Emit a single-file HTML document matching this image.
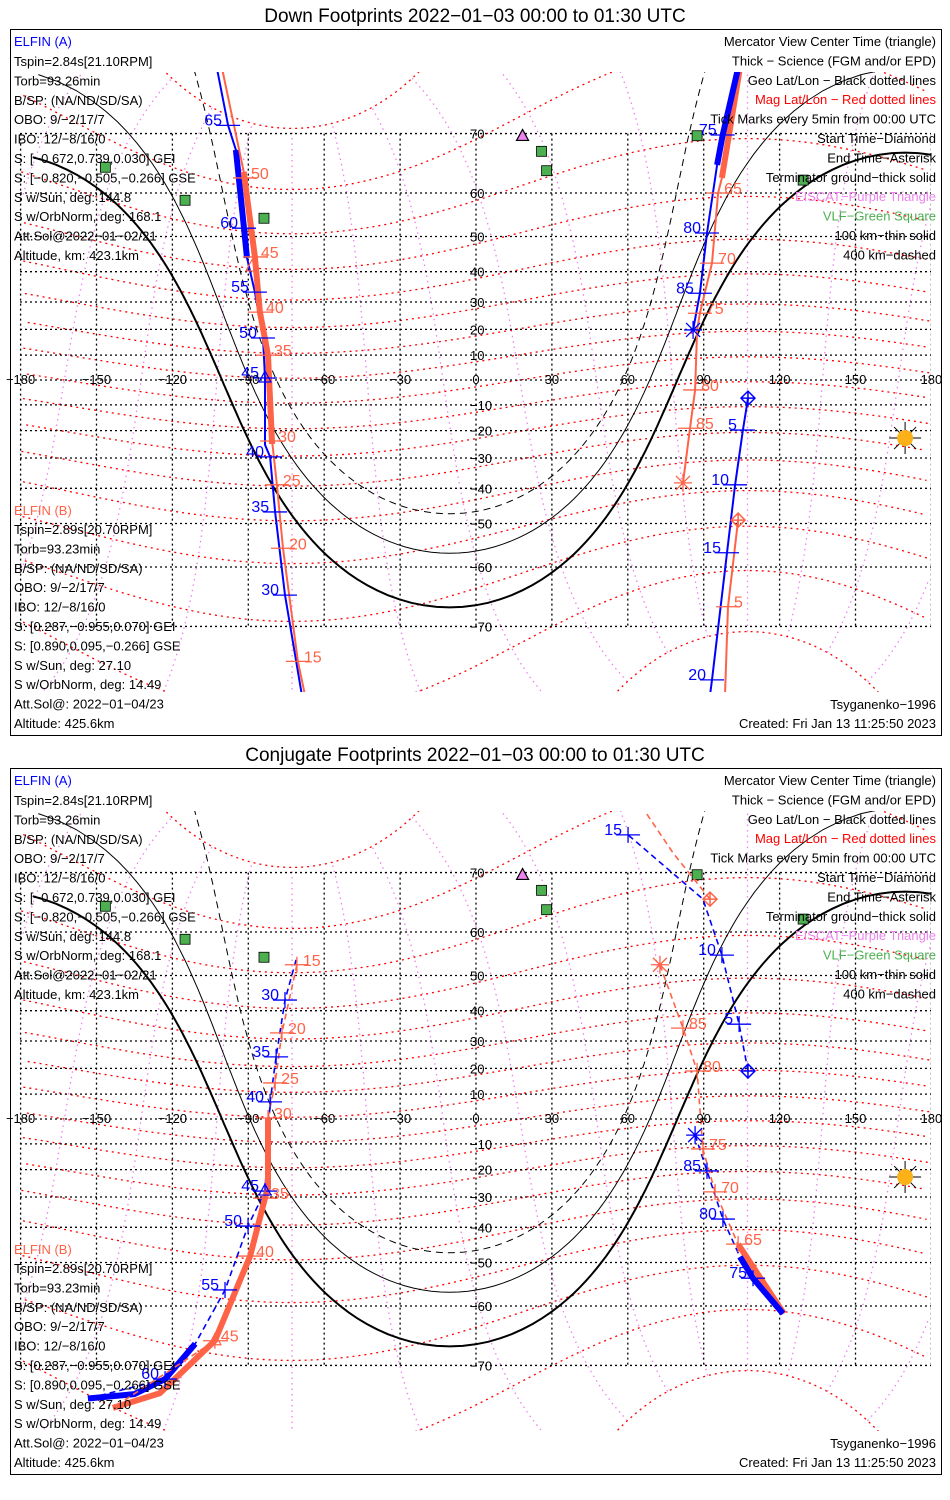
<!DOCTYPE html>
<html><head><meta charset="utf-8">
<style>
html,body{margin:0;padding:0;background:#fff;}
svg{display:block;font-family:"Liberation Sans",sans-serif;}
.info{font-size:13px;}
.leg{font-size:13px;text-anchor:end;}
.ttl{font-size:19px;text-anchor:middle;}
.ax{font-size:13px;}
</style></head>
<body>
<svg id="chart" width="950" height="1500" viewBox="0 0 950 1500" xmlns="http://www.w3.org/2000/svg"></svg>
<script>
// ---------- data (lon/lat of footprint tracks) ----------
// Down footprints
const a1Lon=[-102.4,-98,-94.9,-91.7,-90.5,-87.4,-84.2,-83.4,-83.4,-81.4,-79.4,-75.5,-68.8];
const a1Lat=[77.3,71.1,67.6,52.1,44.1,33.4,16.7,0.8,-25.3,-29.6,-46.9,-65.2,-77.6];
const a1ThickLon=[-94.9,-91.7,-90.5];
const a1ThickLat=[67.6,52.1,44.1];
const a1TickLbl=[65,60,55,50,45,40,35,30];
const a1TickLon=[-98,-91.7,-87.4,-84.2,-83.4,-81.4,-79.4,-75.5];
const a1TickLat=[71.1,52.1,33.4,16.7,0.8,-29.6,-46.9,-65.2];
const b1Lon=[-100.4,-91.3,-87.4,-85.4,-82.2,-80.6,-78.7,-76.3,-70.4,-67.6];
const b1Lat=[77.3,62.9,44.4,26.4,10,-23.9,-38.9,-56,-74.3,-77.6];
const b1ThickLon=[-91.8,-87.4,-85.4,-82.2,-80.6];
const b1ThickLat=[64,44.4,26.4,10,-25];
const b1TickLbl=[50,45,40,35,30,25,20,15];
const b1TickLon=[-91.3,-87.4,-85.4,-82.2,-80.6,-78.7,-76.3,-70.4];
const b1TickLat=[62.9,44.4,26.4,10,-23.9,-38.9,-56,-74.3];
const a2Lon=[103.6,97.5,95.3,91.3,88.5,85.8];
const a2Lat=[77.3,69.8,65.2,50.9,33,19.8];
const a2ThickLon=[103.6,97.5,95.3];
const a2ThickLat=[77.3,69.8,65.2];
const a2TickLbl=[75,80,85];
const a2TickLon=[97.5,91.3,88.5];
const a2TickLat=[69.8,50.9,33];
const a3Lon=[107.5,105.5,102.4,99.2,93.3,92.5];
const a3Lat=[-7.3,-19.8,-38.9,-57,-76.2,-77.6];
const a3TickLbl=[5,10,15,20];
const a3TickLon=[105.5,102.4,99.2,93.3];
const a3TickLat=[-19.8,-38.9,-57,-76.2];
const b2Lon=[104.3,97.2,95.7,93.3,88.5,87.4,86.6,84.6,81.8];
const b2Lat=[77.3,62.9,60,42.6,26,19.8,-4,-19.1,-38.3];
const b2ThickLon=[104.3,97.2];
const b2ThickLat=[77.3,62.9];
const b2TickLbl=[65,70,75,80,85];
const b2TickLon=[95.7,93.3,88.5,86.6,84.6];
const b2TickLat=[60,42.6,26,-4,-19.1];
const b3Lon=[103.6,99.6,98.4];
const b3Lat=[-49.1,-67.1,-77.6];
const b3TickLbl=[5];
const b3TickLon=[99.6];
const b3TickLat=[-67.1];
// Conjugate footprints
const a4Lon=[-71.1,-75.5,-79,-81.4,-83.4,-90.1,-99.2,-111,-122.9,-153.4];
const a4Lat=[53.9,43.2,24.3,6.9,-27.9,-39.6,-56.6,-66.8,-71.8,-74.1];
const a4ThickLon=[-111,-122.9,-135,-153.4];
const a4ThickLat=[-66.8,-71.8,-73.6,-74.1];
const a4TickLbl=[30,35,40,45,50,55,60];
const a4TickLon=[-75.5,-79,-81.4,-83.4,-90.1,-99.2,-122.9];
const a4TickLat=[43.2,24.3,6.9,-27.9,-39.6,-56.6,-71.8];
const b4Lon=[-70.8,-76.7,-79.4,-82.2,-82.2,-83.4,-89.3,-103.2,-143.5];
const b4Lat=[52.7,32.8,14.4,0.4,-26.8,-30.4,-48.3,-66.3,-75.1];
const b4ThickLon=[-82.2,-82.2,-83.4,-89.3,-103.2,-125,-143.5];
const b4ThickLat=[0.4,-26.8,-30.4,-48.3,-66.3,-73.5,-75.1];
const b4TickLbl=[15,20,25,30,35,40,45];
const b4TickLon=[-70.8,-76.7,-79.4,-82.2,-83.4,-89.3,-103.2];
const b4TickLat=[52.7,32.8,14.4,0.4,-30.4,-48.3,-66.3];
const a5Lon=[107.5,104,97.2,89.7,60.1];
const a5Lat=[19.0,35.7,55.0,66.0,74.6];
const a5TickLbl=[5,10,15];
const a5TickLon=[104,97.2,60.1];
const a5TickLat=[35.7,55.0,74.6];
const a6Lon=[86.6,91.3,97.6,104.3,109.5,121.3];
const a6Lat=[-6.5,-20.5,-37.4,-48.5,-53.9,-61.5];
const a6ThickLon=[104.3,109.5,121.3];
const a6ThickLat=[-48.5,-53.9,-61.5];
const a6TickLbl=[85,80,75];
const a6TickLon=[91.3,97.6,109.5];
const a6TickLat=[-20.5,-37.4,-53.9];
const b5Lon=[92.5,78,64.8];
const b5Lat=[66.0,72.5,77.6];
const b6Lon=[72.7,81.8,87.4,89.7,94.5,103.6,121.7];
const b6Lat=[52.7,34.4,19.0,-12.0,-28.2,-45,-61.5];
const b6ThickLon=[103.6,121.7];
const b6ThickLat=[-45,-61.5];
const b6TickLbl=[85,80,75,70,65];
const b6TickLon=[81.8,87.4,89.7,94.5,103.6];
const b6TickLat=[34.4,19.0,-12.0,-28.2,-45];
// grid ticks
const lonTicks=[-180,-150,-120,-90,-60,-30,0,30,60,90,120,150,180];
const latTicks=[-70,-60,-50,-40,-30,-20,-10,0,10,20,30,40,50,60,70];
// sites
const vlfLon=[-146.5,-115,-83.8,25.9,27.9,87.4,129.3];
const vlfLat=[64.8,58.5,54.5,67.4,64.2,69.7,62.5];
const eiscatLon=[16,18.4];
const eiscatLat=[78.2,69.6];
const subsolarLat=-22.8, subsolarLon=169.6;
const termAlt=[0,100,400];

// ---------- projection ----------
const NS='http://www.w3.org/2000/svg';
const svg=document.getElementById('chart');
const X=lon=>476+lon*2.53;
const Y=(lat,off)=>off+380-142*Math.log(Math.tan(Math.PI/4+lat*Math.PI/360));
function el(tag,attrs,parent){const e=document.createElementNS(NS,tag);for(const k in attrs)e.setAttribute(k,attrs[k]);(parent||svg).appendChild(e);return e;}
function txt(s,x,y,cls,parent,fill){const t=el('text',{x:x,y:y,class:cls},parent);t.style.fill=fill||'#000';t.textContent=s;return t;}
function pathFrom(lons,lats,off){let d='',prev=null;for(let i=0;i<lons.length;i++){if(lats[i]>85||lats[i]<-85){prev=null;continue;}const cmd=(prev===null||Math.abs(lons[i]-prev)>180)?'M':'L';d+=cmd+X(lons[i]).toFixed(1)+','+Y(lats[i],off).toFixed(1);prev=lons[i];}return d;}
const R=Math.PI/180;
function magToGeo(mlat,mlon){const pl=80.7*R,pL=-72.7*R,c=Math.PI/2-pl;
 const x=Math.cos(mlat*R)*Math.cos(mlon*R),y=Math.cos(mlat*R)*Math.sin(mlon*R),z=Math.sin(mlat*R);
 const x1=x*Math.cos(c)+z*Math.sin(c),z1=-x*Math.sin(c)+z*Math.cos(c);
 const x2=x1*Math.cos(pL)-y*Math.sin(pL),y2=x1*Math.sin(pL)+y*Math.cos(pL);
 return [Math.atan2(y2,x2)/R,Math.asin(Math.max(-1,Math.min(1,z1)))/R];}
function circle(lat0,lon0,dist){const lons=[],lats=[];const a=lat0*R,d=dist*R;
 for(let b=0;b<=360;b+=2){const br=b*R;const la=Math.asin(Math.sin(a)*Math.cos(d)+Math.cos(a)*Math.sin(d)*Math.cos(br));
 let lo=lon0*R+Math.atan2(Math.sin(br)*Math.sin(d)*Math.cos(a),Math.cos(d)-Math.sin(a)*Math.sin(la));
 lo=((lo/R+540)%360)-180;lons.push(lo);lats.push(la/R);}
 const idx=lons.map((v,i)=>i).sort((p,q)=>lons[p]-lons[q]);return [idx.map(i=>lons[i]),idx.map(i=>lats[i])];}

const BLUE='#0000ff',RED='#ff6347';
function drawTrack(g,name,lons,lats,off,color,dashed){const p=el('path',{d:pathFrom(lons,lats,off),fill:'none',stroke:color,'stroke-width':dashed?1.6:2,'stroke-dasharray':dashed?'6,4':'none'},g);
 
 }
function drawThick(g,name,lons,lats,off,color){const p=el('path',{d:pathFrom(lons,lats,off),fill:'none',stroke:color,'stroke-width':6,'stroke-linecap':'butt'},g);
 
 }
function drawTicks(g,name,lbl,lons,lats,off,color,left,cross){for(let i=0;i<lbl.length;i++){const x=X(lons[i]),y=Y(lats[i],off);
 const t=el('path',{d:'M'+(x-12)+','+y+'H'+(x+12)+(cross?'M'+x+','+(y-8)+'V'+(y+8):''),stroke:color,'stroke-width':1.3,fill:'none'},g);
 
 
 const s=txt(String(lbl[i]),left?x-6:x+6,y+(left?0:1),'',g,color);s.setAttribute('font-size','16');s.setAttribute('text-anchor',left?'end':'start');
 
 }}
function diamond(g,lon,lat,off,color){const x=X(lon),y=Y(lat,off);const d=el('path',{d:`M${x},${y-7}L${x+7},${y}L${x},${y+7}L${x-7},${y}ZM${x},${y-7}V${y+7}M${x-7},${y}H${x+7}`,fill:'none',stroke:color,'stroke-width':1.5},g);
 
 }
function asterisk(g,lon,lat,off,color){const x=X(lon),y=Y(lat,off);const d=el('path',{d:`M${x-9},${y}H${x+9}M${x},${y-9}V${y+9}M${x-7},${y-7}L${x+7},${y+7}M${x-7},${y+7}L${x+7},${y-7}`,fill:'none',stroke:color,'stroke-width':1.3},g);
 
 }
function tri(g,x,y,fill,stroke,name){const d=el('path',{d:`M${x},${y-7}L${x+6},${y+4}L${x-6},${y+4}Z`,fill:fill,stroke:stroke,'stroke-width':1.2},g);
 
 }

function panel(off,title,conj){
 const g=el('g',{});
 
 
 const t=txt(title,475,off+22,'ttl',g);
 
 
 const box=el('rect',{x:10.5,y:off+29.5,width:931,height:706,fill:'none',stroke:'#000','stroke-width':1},g);
 
 
 const cid='clip'+off;const cp=el('clipPath',{id:cid},g);el('rect',{x:13,y:off+72,width:918,height:620},cp);
 const m=el('g',{'clip-path':'url(#'+cid+')'},g);
 
 
 for(let ml=0;ml<360;ml+=30){const lo=[],la=[];for(let k=-80;k<=80;k+=2){const p=magToGeo(k,ml);lo.push(p[0]);la.push(p[1]);}
  const p=el('path',{d:pathFrom(lo,la,off),fill:'none',stroke:'#ee82ee','stroke-width':1.3,'stroke-dasharray':'1.5,4'},m);
  
  }
 for(let mb=-80;mb<=80;mb+=10){const lo=[],la=[];for(let k=0;k<=360;k+=3){const p=magToGeo(mb,k);lo.push(p[0]);la.push(p[1]);}
  const idx=lo.map((v,i)=>i).sort((p,q)=>lo[p]-lo[q]);
  const p=el('path',{d:pathFrom(idx.map(i=>lo[i]),idx.map(i=>la[i]),off),fill:'none',stroke:'#ff0000','stroke-width':1.3,'stroke-dasharray':'2,4'},m);
  
  }
 for(const la of latTicks){const y=Y(la,off);const l=el('line',{x1:20,x2:931,y1:y,y2:y,stroke:'#000','stroke-width':1.3,'stroke-dasharray':'2,3'},m);
  
  
  if(la!==0){const s=txt(String(la).replace('-','\u2212'),470,y+5,'ax',g);s.setAttribute('text-anchor','start');
  
  }}
 for(const lo of lonTicks){const x=X(lo);const l=el('line',{x1:x,x2:x,y1:Y(70,off),y2:Y(-70,off),stroke:'#000','stroke-width':1.3,'stroke-dasharray':'2,3'},m);
  
  
  const s=txt(String(lo).replace('-','\u2212'),x,Y(0,off)+4,'ax',g);s.setAttribute('text-anchor','middle');
  
  }
 termAlt.forEach((h,i)=>{const dist=90+Math.acos(6371/(6371+h))/R;const c=circle(subsolarLat,subsolarLon,dist);
  const p=el('path',{d:pathFrom(c[0],c[1],off),fill:'none',stroke:'#000','stroke-width':i===0?2:1,'stroke-dasharray':i===2?'7,5':'none'},m);
  
  });
 for(let i=0;i<vlfLon.length;i++){const r=el('rect',{x:X(vlfLon[i])-5,y:Y(vlfLat[i],off)-5,width:10,height:10,fill:'#4caf50',stroke:'#000','stroke-width':0.8},m);
  
  }
 for(let i=0;i<eiscatLon.length;i++){tri(m,X(eiscatLon[i]),Y(eiscatLat[i],off),'#ee82ee','#000','eiscat-station');}
 const sx=X(subsolarLon),sy=Y(subsolarLat,off);
 const sun=el('g',{},m);
 el('path',{d:`M${sx-16},${sy}H${sx+16}M${sx},${sy-16}V${sy+16}M${sx-11},${sy-11}L${sx+11},${sy+11}M${sx-11},${sy+11}L${sx+11},${sy-11}`,stroke:'#000','stroke-width':1},sun);
 el('circle',{cx:sx,cy:sy,r:8,fill:'#fbb117'},sun);
 if(!conj){
  drawTrack(m,'elfin-a-track',a1Lon,a1Lat,off,BLUE);drawThick(m,'elfin-a-science',a1ThickLon,a1ThickLat,off,BLUE);
  drawTrack(m,'elfin-b-track',b1Lon,b1Lat,off,RED);drawThick(m,'elfin-b-science',b1ThickLon,b1ThickLat,off,RED);
  drawTicks(m,'elfin-a',a1TickLbl,a1TickLon,a1TickLat,off,BLUE,true);
  drawTicks(m,'elfin-b',b1TickLbl,b1TickLon,b1TickLat,off,RED,false);
  drawTrack(m,'elfin-b-track-east',b2Lon,b2Lat,off,RED);drawThick(m,'elfin-b-science-east',b2ThickLon,b2ThickLat,off,RED);
  drawTrack(m,'elfin-a-track-east',a2Lon,a2Lat,off,BLUE);drawThick(m,'elfin-a-science-east',a2ThickLon,a2ThickLat,off,BLUE);
  drawTrack(m,'elfin-a-track-start',a3Lon,a3Lat,off,BLUE);
  drawTrack(m,'elfin-b-track-start',b3Lon,b3Lat,off,RED);
  drawTicks(m,'elfin-a-east',a2TickLbl,a2TickLon,a2TickLat,off,BLUE,true);
  drawTicks(m,'elfin-a-start',a3TickLbl,a3TickLon,a3TickLat,off,BLUE,true);
  drawTicks(m,'elfin-b-east',b2TickLbl,b2TickLon,b2TickLat,off,RED,false);
  drawTicks(m,'elfin-b-start',b3TickLbl,b3TickLon,b3TickLat,off,RED,false);
  diamond(m,a3Lon[0],a3Lat[0],off,BLUE);diamond(m,b3Lon[0],b3Lat[0],off,RED);
  asterisk(m,a2Lon[a2Lon.length-1],a2Lat[a2Lat.length-1],off,BLUE);asterisk(m,b2Lon[b2Lon.length-1],b2Lat[b2Lat.length-1],off,RED);
  tri(m,X(a1TickLon[4]),Y(a1TickLat[4],off),'none',BLUE,'center-time-a');
  tri(m,X(b1TickLon[1])-3,Y(b1TickLat[1],off)+10,'none',RED,'center-time-b');
 } else {
  drawTrack(m,'elfin-a-track',a4Lon,a4Lat,off,BLUE,true);drawThick(m,'elfin-a-science',a4ThickLon,a4ThickLat,off,BLUE);
  drawTrack(m,'elfin-b-track',b4Lon,b4Lat,off,RED,true);drawThick(m,'elfin-b-science',b4ThickLon,b4ThickLat,off,RED);
  drawTicks(m,'elfin-a',a4TickLbl,a4TickLon,a4TickLat,off,BLUE,true,true);
  drawTicks(m,'elfin-b',b4TickLbl,b4TickLon,b4TickLat,off,RED,false,true);
  drawTrack(m,'elfin-b-track-start',b5Lon,b5Lat,off,RED,true);
  drawTrack(m,'elfin-a-track-start',a5Lon,a5Lat,off,BLUE,true);
  drawTrack(m,'elfin-b-track-east',b6Lon,b6Lat,off,RED,true);drawThick(m,'elfin-b-science-east',b6ThickLon,b6ThickLat,off,RED);
  drawTrack(m,'elfin-a-track-east',a6Lon,a6Lat,off,BLUE,true);drawThick(m,'elfin-a-science-east',a6ThickLon,a6ThickLat,off,BLUE);
  drawTicks(m,'elfin-a-start',a5TickLbl,a5TickLon,a5TickLat,off,BLUE,true,true);
  drawTicks(m,'elfin-a-east',a6TickLbl,a6TickLon,a6TickLat,off,BLUE,true,true);
  drawTicks(m,'elfin-b-east',b6TickLbl,b6TickLon,b6TickLat,off,RED,false,true);
  diamond(m,a5Lon[0],a5Lat[0],off,BLUE);diamond(m,b5Lon[0],b5Lat[0],off,RED);
  asterisk(m,a6Lon[0],a6Lat[0],off,BLUE);asterisk(m,b6Lon[0],b6Lat[0],off,RED);
  tri(m,X(a4TickLon[3]),Y(a4TickLat[3],off),'none',BLUE,'center-time-a');
  tri(m,X(b4TickLon[6]),Y(b4TickLat[6],off),'none',RED,'center-time-b');
 }
 const infoA=['Tspin=2.84s[21.10RPM]','Torb=93.26min','B/SP: (NA/ND/SD/SA)','OBO: 9/\u22122/17/7','IBO: 12/\u22128/16/0','S: [\u22120.672,0.739,0.030] GEI','S: [\u22120.820,\u22120.505,\u22120.266] GSE','S w/Sun, deg: 144.8','S w/OrbNorm, deg: 168.1','Att.Sol@2022\u221201\u221202/21','Altitude, km: 423.1km'];
 const infoB=['Tspin=2.89s[20.70RPM]','Torb=93.23min','B/SP: (NA/ND/SD/SA)','OBO: 9/\u22122/17/7','IBO: 12/\u22128/16/0','S: [0.287,\u22120.955,0.070] GEI','S: [0.890,0.095,\u22120.266] GSE','S w/Sun, deg: 27.10','S w/OrbNorm, deg: 14.49','Att.Sol@: 2022\u221201\u221204/23','Altitude: 425.6km'];
 let s=txt('ELFIN (A)',14,off+46,'info',g,BLUE);
 
 infoA.forEach((v,i)=>{const q=txt(v,14,off+66+i*19.4,'info',g);});
 s=txt('ELFIN (B)',14,off+515,'info',g,RED);
 
 infoB.forEach((v,i)=>{const q=txt(v,14,off+534+i*19.4,'info',g);});
 const legT=['Mercator View Center Time (triangle)','Thick \u2212 Science (FGM and/or EPD)','Geo Lat/Lon \u2212 Black dotted lines','Mag Lat/Lon \u2212 Red dotted lines','Tick Marks every 5min from 00:00 UTC','Start Time\u2212Diamond','End Time\u2212Asterisk','Terminator ground\u2212thick solid','EISCAT\u2212Purple Triangle','VLF\u2212Green Square','100 km\u2212thin solid','400 km\u2212dashed'];
 const legC=['#000','#000','#000','#ff0000','#000','#000','#000','#000','#ee82ee','#4caf50','#000','#000'];
 legT.forEach((v,i)=>{const q=txt(v,936,off+46+i*19.4,'leg',g,legC[i]);});
 s=txt('Tsyganenko\u22121996',936,off+709,'leg',g);
 s=txt('Created: Fri Jan 13 11:25:50 2023',936,off+728,'leg',g);
}
panel(0,'Down Footprints 2022\u221201\u221203 00:00 to 01:30 UTC',false);
panel(739,'Conjugate Footprints 2022\u221201\u221203 00:00 to 01:30 UTC',true);
</script>
</body></html>
